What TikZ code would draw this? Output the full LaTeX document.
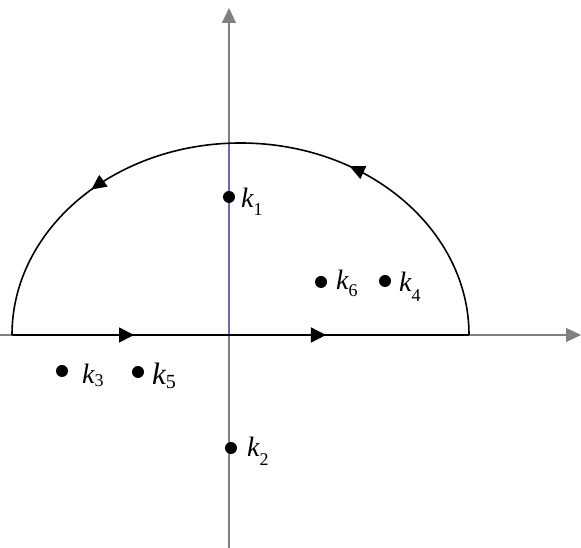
\documentclass[tikz,border=0pt]{standalone}
\usepackage{fontspec}
\setmainfont{Liberation Serif}
\usetikzlibrary{arrows.meta,decorations.markings}
\definecolor{axisgray}{RGB}{128,128,128}
\definecolor{imblue}{RGB}{105,105,180}
\newcommand\klab[4][28]{{\fontsize{#1}{#1}\selectfont\itshape k}\raisebox{-#4pt}{\fontsize{#2}{#2}\selectfont #3}}

\begin{document}
\begin{tikzpicture}[x=1pt,y=1pt,
  axis/.style={axisgray,line width=1.1pt,-{Triangle[length=15pt,width=14pt]}},
  contour/.style={black,line width=1.6pt,postaction={decorate},
    decoration={markings,#1}},
  pole/.style={circle,fill=black,inner sep=0pt,minimum size=12pt},
  lab/.style={anchor=base west,inner sep=0pt}]
\useasboundingbox (0,0) rectangle (581,548);
\coordinate (O) at (229,213);
\coordinate (A) at (12,213);
\coordinate (B) at (469,213);
\coordinate (T) at (229,405);
\coordinate (xl) at (0,213);
\coordinate (xr) at (581,213);
\coordinate (yb) at (229,0);
\coordinate (yt) at (229,540);
% axes
\draw[axis] (xl) -- (xr);
\draw[axis] (yb) -- (yt);
\draw[imblue,line width=1.2pt] (O) -- (T);
% closed contour
\draw[contour={mark=at position 0.267 with {\arrow{Triangle[length=15pt,width=15pt]}},
  mark=at position 0.687 with {\arrow{Triangle[length=15pt,width=15pt]}}}] (A) -- (B);
\draw[contour={mark=at position 0.33 with {\arrow{Triangle[length=15pt,width=14pt]}},
  mark=at position 0.74 with {\arrow{Triangle[length=15pt,width=14pt]}}}]
  (B) arc[start angle=0,end angle=180,x radius=228.5,y radius=192];
% poles
\node[pole] (k1) at (229,351) {};
\node[pole] (k2) at (231,100) {};
\node[pole] (k3) at (62,177) {};
\node[pole] (k4) at (385,267) {};
\node[pole] (k5) at (138,176) {};
\node[pole] (k6) at (321,266) {};
\node[lab] (l1) at ([shift={(12,-11)}]k1.center) {\klab{18}{1}{8}};
\node[lab] (l2) at ([shift={(16,-9)}]k2.center) {\klab{18}{2}{9}};
\node[lab] (l3) at ([shift={(20,-13)}]k3.center) {\klab{18}{3}{3}};
\node[lab] (l4) at ([shift={(14,-11)}]k4.center) {\klab{18}{4}{10}};
\node[lab] (l5) at ([shift={(14,-13)}]k5.center) {\klab[31]{20}{5}{4}};
\node[lab] (l6) at ([shift={(15,-8)}]k6.center) {\klab{18}{6}{7}};
\end{tikzpicture}
\end{document}
